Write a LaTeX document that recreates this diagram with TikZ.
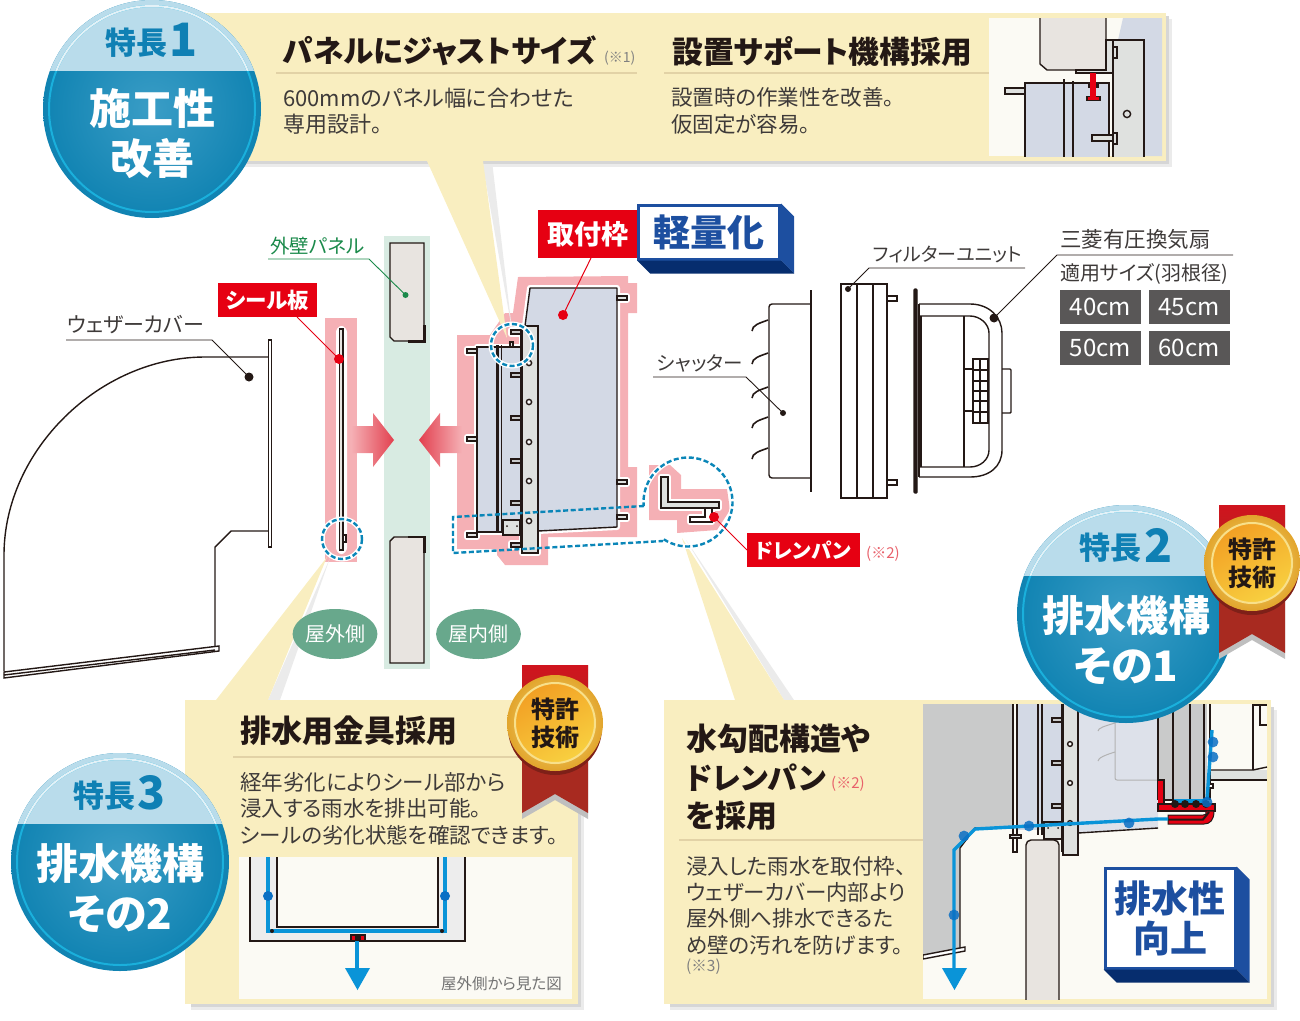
\documentclass[tikz,border=0pt]{standalone}
\usepackage{fontspec}
\setmainfont{Noto Sans CJK JP}[RawFeature=+palt,BoldFont={Noto Sans CJK JP Black}]
\usetikzlibrary{calc,shapes.geometric}

\definecolor{creamc}{HTML}{F9EEC0}
\definecolor{insetc}{HTML}{FBFAF4}
\definecolor{inkc}{HTML}{231815}
\definecolor{textc}{HTML}{3E3A39}
\definecolor{rulec}{HTML}{E2D2A6}
\definecolor{frameblue}{HTML}{D3D9E5}
\definecolor{framelight}{HTML}{DDE1EA}
\definecolor{platec}{HTML}{DFE1DF}
\definecolor{wallc}{HTML}{E8E4E0}
\definecolor{coverc}{HTML}{C9CACA}
\definecolor{pinkc}{HTML}{F5B0B5}
\definecolor{stripc}{HTML}{D8EBE2}
\definecolor{redc}{HTML}{E60012}
\definecolor{arrowc}{HTML}{E2404F}
\definecolor{greenc}{HTML}{1B8A4B}
\definecolor{pillc}{HTML}{68A88C}
\definecolor{sizec}{HTML}{595757}
\definecolor{waterc}{HTML}{0A94D8}
\definecolor{dropc}{HTML}{0A6FC4}
\definecolor{dashc}{HTML}{0A86B8}
\definecolor{liftc}{HTML}{1D4FA0}
\definecolor{liftdark}{HTML}{062D6E}
\definecolor{badgemid}{HTML}{3A9DC6}
\definecolor{badgeedge}{HTML}{1083B2}
\definecolor{badgetop}{HTML}{B9DCEB}
\definecolor{badgering}{HTML}{1AB0DC}
\definecolor{numc}{HTML}{0F80B4}
\definecolor{ribbontop}{HTML}{D0141E}
\definecolor{ribbonlow}{HTML}{A82A20}
\definecolor{noteredc}{HTML}{E8606A}
\definecolor{goldedge}{HTML}{E2A52C}
\definecolor{goldpale}{HTML}{F8E08A}
\definecolor{goldlow}{HTML}{F2A024}
\definecolor{goldhigh}{HTML}{F8D040}

\tikzset{
  every node/.style={inner sep=0},
  headtxt/.style={anchor=west,text=inkc,font=\bfseries\fontsize{30}{38}\selectfont},
  bodytxt/.style={anchor=west,align=left,text=textc,font=\fontsize{21.5}{26.4}\selectfont},
  notetxt/.style={anchor=west,text=black!50,font=\fontsize{14}{14}\selectfont},
  captxt/.style={anchor=west,text=textc,font=\fontsize{20}{20}\selectfont},
  redtag/.style={fill=redc,text=white,font=\bfseries\fontsize{21.5}{21.5}\selectfont},
  sizetag/.style={fill=sizec,text=white,minimum width=81,minimum height=34,font=\fontsize{24}{24}\selectfont},
  sidepill/.style={ellipse,fill=pillc,text=white,minimum width=84,minimum height=50,font=\fontsize{20}{20}\selectfont},
  liftbox/.style={draw=liftc,fill=white,line width=3,text=liftc,align=center,font=\bfseries\fontsize{37}{41}\selectfont},
  lead/.style={draw=inkc,line width=0.9},
  leadred/.style={draw=redc,line width=1},
  leadgreen/.style={draw=greenc,line width=0.9},
  dotblk/.style={circle,fill=inkc,minimum size=9},
  dotred/.style={circle,fill=redc,minimum size=10},
  dotgreen/.style={circle,fill=greenc,minimum size=6},
  part/.style={draw=inkc,line width=1.4},
  thick part/.style={draw=inkc,line width=2.8},
  halo/.style={draw=white,line width=6,line join=round},
  dashring/.style={draw=dashc,line width=2.4,dash pattern=on 5pt off 2.6pt},
  dashhalo/.style={draw=white,line width=5},
  water/.style={draw=waterc,line width=3.4},
  drop/.style={fill=dropc,opacity=0.85},
  shadowa/.style={fill=black!8},
  shadowb/.style={fill=black!16},
}

\newcommand{\featurecircle}[7]{%
  \begin{scope}[shift={(#2,#3)}]
    \shade[inner color=badgemid,outer color=badgeedge] (0,0) circle (109);
    \begin{scope}
      \clip (-110,-110) rectangle (110,-39);
      \fill[badgetop] (0,0) circle (109);
    \end{scope}
    \draw[badgering,line width=2] (0,0) circle (103);
    \begin{scope}
      \clip (-110,-110) rectangle (110,-39);
      \draw[white!60!badgetop,line width=2] (0,0) circle (103);
    \end{scope}
    \node[text=numc,font=\bfseries\fontsize{31}{31}\selectfont] (#1word) at (-16,-66) {特長};
    \node[text=numc,font=\bfseries\fontsize{46}{46}\selectfont] (#1num) at (32,-69) {#4};
    \node[text=white,font=\bfseries\fontsize{42}{42}\selectfont] (#1top) at (0,#7) {#5};
    \node[text=white,font=\bfseries\fontsize{42}{42}\selectfont] (#1low) at (0,#7+50) {#6};
  \end{scope}}

\newcommand{\patentmark}[3]{%
  \begin{scope}[shift={(#2,#3)}]
    \fill[black!25] (-33,-58) -- (33,-58) -- (33,96) -- (0,77) -- (-33,96) -- cycle;
    \shade[top color=ribbontop,bottom color=ribbonlow,middle color=ribbonlow] (-33,-58) -- (33,-58) -- (33,90) -- (0,71) -- (-33,90) -- cycle;
    \fill[ribbonlow!75!black] (0,5) circle (47);
    \shade[inner color=goldpale,outer color=goldedge] (0,0) circle (48);
    \shade[left color=goldlow,right color=goldhigh,shading angle=30,draw=goldpale,line width=2] (0,0) circle (40);
    \node[align=center,text=inkc,font=\bfseries\fontsize{24}{28}\selectfont] (#1) at (0,0) {特許\\技術};
  \end{scope}}

\begin{document}
\begin{tikzpicture}[x=1pt,y=-1pt]
  \useasboundingbox (0,0) rectangle (1300,1020);

  % pink halos and the wall strip
  \fill[pinkc] (518,277) -- (628,276) -- (628,283) -- (637,283) -- (637,313) -- (628,313) -- (628,467) -- (637,467)
    -- (637,537) -- (548,537) -- (548,565) -- (505,565) -- (497,555) -- (497,549) -- (457,549) -- (457,335) -- (490,335)
    -- (505,313) -- (513,313) -- cycle;
  \fill[pinkc] (649,465) -- (670,465) -- (681,475) -- (681,489) -- (727,489) -- (730,510) -- (717,530) -- (677,533)
    -- (677,520) -- (649,520) -- cycle;
  \fill[pinkc] (325,318) rectangle (357,562);
  \fill[stripc] (384,236) rectangle (430,669);

  % callout panels with their tails
  \fill[shadowa] (482,161) -- (492,161) -- (512,330) -- cycle;
  \fill[shadowa] (268,700) -- (280,700) -- (330,558) -- cycle;
  \fill[shadowa] (784,700) -- (794,700) -- (686,540) -- cycle;
  \fill[shadowa] (172,19) rectangle (1172,167);
  \fill[shadowb] (172,16) rectangle (1169,164);
  \fill[shadowa] (191,710) rectangle (584,1010);
  \fill[shadowb] (191,707) rectangle (581,1007);
  \fill[shadowa] (670,710) rectangle (1277,1010);
  \fill[shadowb] (670,707) rectangle (1274,1007);
  \fill[creamc] (427,161) -- (483,161) -- (507,338) -- cycle;
  \fill[creamc] (216,700) -- (268,700) -- (327,557) -- cycle;
  \fill[creamc] (735,700) -- (784,700) -- (682,538) -- cycle;
  \fill[creamc] (170,13) rectangle (1166,161);
  \fill[creamc] (185,700) rectangle (578,1004);
  \fill[creamc] (664,700) rectangle (1271,1004);

  % top panel
  \node[headtxt,font=\bfseries\fontsize{30.5}{30.5}\selectfont] (headjust) at (283,51) {パネルにジャストサイズ};
  \node[notetxt] (notejust) at (604,58) {(※1)};
  \draw[rulec,line width=2] (276,73) -- (637,73);
  \node[bodytxt,font=\fontsize{22}{26.4}\selectfont] (bodyjust) at (283,111) {600mmのパネル幅に合わせた\\専用設計。};
  \node[headtxt,font=\bfseries\fontsize{30.8}{30.8}\selectfont] (headsupport) at (672,52) {設置サポート機構採用};
  \draw[rulec,line width=2] (664,73) -- (989,73);
  \node[bodytxt] (bodysupport) at (671,111) {設置時の作業性を改善。\\仮固定が容易。};

  % top inset
  \begin{scope}
    \clip (989,18) rectangle (1162,156);
    \fill[insetc] (989,18) rectangle (1162,156);
    \fill[frameblue] (1123,18) -- (1162,18) -- (1162,156) -- (1113,156) -- (1113,40) -- (1118,40) -- cycle;
    \draw[part,fill=wallc] (1040,10) -- (1040,64) -- (1047,70) -- (1106,70) -- (1106,10);
    \draw[part,fill=frameblue] (1025,160) -- (1025,83) -- (1109,83) -- (1109,160);
    \draw[part,fill=platec] (1005,88) rectangle (1025,94);
    \draw[part,fill=platec] (1113,160) -- (1113,40) -- (1144,40) -- (1144,160);
    \draw[part,fill=platec] (1076,70) -- (1106,70) -- (1106,40) -- (1113,40) -- (1113,73) -- (1076,73) -- cycle;
    \draw[part,fill=platec] (1113,47) rectangle (1117,58);
    \draw[thick part] (1064,79) -- (1064,160);
    \draw[part] (1073,81) -- (1073,160);
    \draw[part,fill=platec] (1092,135) rectangle (1113,141);
    \draw[part,fill=platec] (1113,133) rectangle (1117,144);
    \fill[inkc] (1088,84) rectangle (1099,88);
    \fill[inkc] (1086,96) rectangle (1101,101);
    \fill[redc] (1090,73) rectangle (1096,97);
    \fill[redc] (1088,97) rectangle (1099,100);
    \draw[part] (1127,114) circle (3.6);
  \end{scope}

  % bottom left panel
  \node[headtxt,font=\bfseries\fontsize{31}{31}\selectfont] (headmetal) at (240,731) {排水用金具採用};
  \draw[rulec,line width=2] (233,757) -- (530,757);
  \node[bodytxt] (bodymetal) at (240,808.5) {経年劣化によりシール部から\\浸入する雨水を排出可能。\\シールの劣化状態を確認できます。};
  \fill[insetc] (239,857) rectangle (572,999);
  \draw[part,fill=black!7] (250,857) -- (250,941) -- (465,941) -- (465,857);
  \draw[part,fill=insetc] (277,857) -- (277,927) -- (438,927) -- (438,857);
  \draw[water] (268,857) -- (268,931) -- (445,931) -- (445,857);
  \fill[dropc] (268,896) circle (5);
  \fill[dropc] (445,896) circle (5);
  \fill[inkc] (272,931) circle (2);
  \fill[inkc] (442,931) circle (2);
  \fill[inkc] (350,934) rectangle (366,941);
  \fill[redc] (352,935.5) rectangle (355,940);
  \fill[redc] (361,935.5) rectangle (364,940);
  \draw[water] (357,941) -- (357,970);
  \fill[waterc] (345,968) -- (370,968) -- (357.5,990) -- cycle;
  \node[anchor=east,text=black!55,font=\fontsize{15.5}{15.5}\selectfont] (seenfrom) at (562,984) {屋外側から見た図};

  % bottom right panel
  \node[headtxt,anchor=north west,font=\bfseries\fontsize{31}{38.5}\selectfont,align=left] (headslope) at (686,724) {水勾配構造や\\{\fontsize{30}{38.5}\selectfont ドレンパン}\\を採用};
  \node[notetxt,text=noteredc,font=\fontsize{15}{15}\selectfont] (noteslope) at (831,784) {(※2)};
  \draw[rulec,line width=2] (679,840) -- (923,840);
  \node[bodytxt] (bodyslope) at (686,905.5) {浸入した雨水を取付枠、\\ウェザーカバー内部より\\屋外側へ排水できるた\\め壁の汚れを防げます。};
  \node[notetxt,font=\fontsize{15.5}{15.5}\selectfont] (notethree) at (686,967) {(※3)};

  % bottom right inset
  \begin{scope}
    \clip (923,704) rectangle (1267,999);
    \fill[insetc] (923,704) rectangle (1267,999);
    \fill[coverc] (923,704) -- (1012,704) -- (1012,828) -- (975,828) -- (960,848) -- (960,948) -- (923,956) -- cycle;
    \draw[part] (1012,828) -- (975,828) -- (960,848) -- (960,948);
    \draw[part,fill=white] (923,955) -- (965,947) -- (965,951) -- (923,959) -- cycle;
    \fill[framelight] (1078,700) -- (1158,700) -- (1158,828) -- (1078,833) -- cycle;
    \draw[black!30,line width=1,rounded corners=2] (1115,700) -- (1115,780) -- (1157,780);
    \draw[black!30,line width=1] (1115,723) .. controls (1105,726) and (1098,728) .. (1098,731);
    \draw[black!30,line width=1] (1115,752) .. controls (1105,755) and (1098,758) .. (1098,761);
    \fill[frameblue] (1017,700) rectangle (1062,830);
    \draw[part] (1158,828) -- (1078,833);
    \draw[part] (1013,700) -- (1013,852) -- (1017,852) -- (1017,700);
    \draw[part] (1038,700) -- (1038,835);
    \draw[thick part] (1042,700) -- (1042,835);
    \draw[part,fill=platec] (1010,835) rectangle (1021,838);
    \draw[part,fill=platec] (1063,700) -- (1063,855) -- (1078,855) -- (1078,700);
    \draw[thick part] (1062,700) -- (1062,852);
    \foreach \y in {720,763,806} {
      \draw[part,fill=coverc] (1052,\y-2) rectangle (1062,\y+2);
    }
    \foreach \y in {744,783,823} {
      \draw[part,fill=white] (1070,\y) circle (2.4);
    }
    \draw[part,fill=platec] (1044,822) rectangle (1062,839);
    \fill[inkc] (1048,828) circle (1);
    \fill[inkc] (1058,828) circle (1);
    \draw[part,fill=wallc,rounded corners=5] (1026,1005) -- (1026,840) -- (1059,840) -- (1059,1005);
    \fill[coverc] (1158,700) rectangle (1207,800);
    \foreach \x in {1158,1173,1190,1204,1210} {
      \draw[part] (\x,700) -- (\x,800);
    }
    \draw[part] (1158,800) -- (1207,800);
    \fill[redc] (1158,780) rectangle (1164,804);
    \draw[part] (1158,780) -- (1164,780) -- (1164,804);
    \draw[part,fill=redc] (1158,804) rectangle (1215,811);
    \fill[redc,draw=inkc,line width=1] (1168,815) -- (1203,815) .. controls (1206,815) and (1206,815) .. (1206,811) -- (1214,811)
      .. controls (1214,820) and (1210,824) .. (1204,824) -- (1168,824) -- cycle;
    \draw[inkc,line width=2] (1168,819.5) -- (1203,819.5) -- (1209,812);
    \draw[part] (1253,700) -- (1253,770);
    \draw[part] (1253,705) -- (1267,705);
    \draw[part] (1260,705) -- (1260,725) -- (1267,725);
    \fill[platec] (1211,770) rectangle (1267,780);
    \draw[part] (1211,770) -- (1253,770) -- (1267,767);
    \draw[part] (1211,780) -- (1267,780);
    \draw[part,fill=white] (1208,784) rectangle (1213,788);
    \draw[water] (1212,730) -- (1207,800);
    \draw[water,line width=3.4] (1174,801) -- (1207,801);
    \foreach \x in {1175,1185,1196,1206} {
      \fill[inkc] (\x,804) circle (4);
    }
    \draw[water] (1168,819) -- (1158,819) -- (975,829) -- (954,850) -- (954,972);
    \fill[waterc] (942,968) -- (967,968) -- (954.5,990) -- cycle;
    \foreach \x/\y in {1129/823,1029/826,964/836,954/915,1213/742,1213/757,1207/802} {
      \fill[drop] (\x,\y) circle (5.4);
    }
  \end{scope}
  \node[liftbox,minimum width=130,minimum height=100] (liftdrain) at (1170,918) {\raisebox{-1pt}{排水性}\\向上};
  \fill[liftc] (liftdrain.north east) -- ($(liftdrain.north east)+(13,13)$) -- ($(liftdrain.south east)+(13,13)$) -- (liftdrain.south east) -- cycle;
  \fill[liftdark] (liftdrain.south west) -- (liftdrain.south east) -- ($(liftdrain.south east)+(13,13)$) -- ($(liftdrain.south west)+(13,13)$) -- cycle;

  % weather cover
  \draw[part] (268,357) -- (205,357) .. controls (100,357) and (4,450) .. (4,555) -- (4,671);
  \draw[part] (268,531) -- (231,531) -- (215,547) -- (215,647);
  \draw[part,fill=white] (268.5,340) rectangle (271.5,547);
  \draw[part,fill=white] (4,672) -- (219,646) -- (219,651) -- (4,678) -- cycle;
  \draw[part] (4,675) -- (215,650);

  % seal plate
  \draw[halo,rounded corners=3] (339,329) rectangle (344,551);
  \draw[part,fill=wallc,line width=1.6] (339.5,329) rectangle (343,550);
  \draw[part,fill=white] (343,535) rectangle (346,542);
  \draw[dashhalo] (342,539) circle (20);
  \draw[dashring] (342,539) circle (20);

  % wall panels
  \draw[part,fill=wallc] (390,243) -- (424,243) -- (424,341) -- (394,341) -- (390,337) -- cycle;
  \draw[thick part] (408,341.5) -- (424.5,341.5) -- (424.5,325);
  \draw[part,fill=wallc] (394,537) -- (424,537) -- (424,663) -- (390,663) -- (390,541) -- cycle;
  \draw[thick part] (408,537) -- (424.5,537) -- (424.5,553);

  % push arrows
  \shade[left color=pinkc,middle color=pinkc!45,right color=arrowc] (351,426) -- (373,426) -- (373,413) -- (394,440) -- (373,467) -- (373,453) -- (351,453) -- cycle;
  \shade[left color=arrowc,middle color=pinkc!55,right color=pinkc] (419,440) -- (440,413) -- (440,426) -- (462,426) -- (462,453) -- (440,453) -- (440,467) -- cycle;

  % mounting frame
  \path[halo] (530,288) -- (617,288) -- (617,527) -- (538,531) -- (538,326) -- (525,326) -- cycle;
  \path[halo] (477,347) rectangle (521,532);
  \path[halo] (522,326) rectangle (538,553);
  \foreach \y in {332,545} {
    \path[halo] (511,\y-2) rectangle (521,\y+2);
  }
  \foreach \y in {351,439,535} {
    \path[halo] (467,\y-2) rectangle (477,\y+2);
  }
  \foreach \y in {298,482,517} {
    \path[halo] (617,\y-2) rectangle (627,\y+2);
  }
  \draw[part,fill=frameblue,line join=round] (530,288) -- (617,288) -- (617,527) -- (538,531) -- (538,326) -- (525,326) -- cycle;
  \draw[part,fill=frameblue] (477,347) -- (521,347) -- (521,532) -- (477,532) -- cycle;
  \draw[part,fill=platec] (522,326) rectangle (538,553);
  \draw[thick part] (497.5,345) -- (497.5,533);
  \draw[part] (501.5,345) -- (501.5,533);
  \draw[thick part] (521,333) -- (521,547);
  \foreach \y in {363,402,442,481,521} {
    \draw[part,fill=white] (529,\y) circle (2.6);
  }
  \foreach \y in {332,375,418,461,503,545} {
    \draw[part,fill=coverc] (511,\y-2) rectangle (521,\y+2);
  }
  \foreach \y in {351,439,535} {
    \draw[part,fill=platec] (467,\y-2) rectangle (477,\y+2);
  }
  \foreach \y in {298,482,517} {
    \draw[part,fill=platec] (617,\y-2) rectangle (627,\y+2);
  }
  \draw[part,fill=platec] (510,342) rectangle (513,347);
  \draw[part,fill=platec] (503,520) rectangle (520,535);
  \fill[inkc] (507,526) circle (1);
  \fill[inkc] (517,526) circle (1);
  \draw[dashhalo] (512,345) circle (21);
  \draw[dashring] (512,345) circle (21);

  % drain pan
  \path[halo] (661,477) -- (668,477) -- (668,502) -- (719,502) -- (719,508) -- (661,508) -- cycle;
  \path[halo] (690,517) -- (690,522) -- (712,522) -- (712,508) -- (705,508) -- (705,517) -- cycle;
  \draw[part,fill=platec,line width=1.4] (661,477) -- (668,477) -- (668,502) -- (719,502) -- (719,508) -- (661,508) -- cycle;
  \draw[part,fill=white] (690,517) -- (690,522) -- (712,522) -- (712,508) -- (705,508) -- (705,517) -- cycle;
  \draw[dashhalo] plot[domain=175:483,samples=60] ({688+44.5*cos(\x)},{502+44.5*sin(\x)});
  \coordinate (panA) at (453,517);
  \coordinate (panB) at (644,506);
  \coordinate (panC) at (663,541);
  \coordinate (panD) at (453,553);
  \draw[dashring] (panB) -- (panA) -- (panD) -- (panC)
    plot[domain=123:-185,samples=60] ({688+44.5*cos(\x)},{502+44.5*sin(\x)});

  % shutter
  \draw[part,fill=white,rounded corners=3] (811,304) -- (769,304) -- (769,478) -- (811,478);
  \draw[thick part] (811,290) -- (811,492);
  \foreach \y in {320,353,387,417,448} {
    \draw[part,line width=1.6] (768,\y) .. controls (760,\y+3) and (752,\y+5) .. (752,\y+11);
  }

  % filter unit
  \draw[part] (841,284) rectangle (887,498);
  \draw[part] (857,284) -- (857,498);
  \draw[part] (873,284) -- (873,498);
  \draw[part] (887,296) rectangle (897,301);
  \draw[part] (887,480) rectangle (897,485);

  % fan
  \draw[part,fill=inkc,rounded corners=1] (914,289) rectangle (917,493);
  \draw[part] (919,304) -- (970,304) .. controls (990,304) and (1002,318) .. (1002,333) -- (1002,450)
    .. controls (1002,466) and (990,477) .. (970,477) -- (919,477);
  \draw[part] (919,316) -- (970,316) .. controls (980,316) and (989,324) .. (989,333) -- (989,450)
    .. controls (989,460) and (980,467) .. (970,467) -- (919,467);
  \draw[part] (919,304) -- (919,477);
  \draw[part] (921,316) -- (921,467);
  \draw[part,line width=1.6] (964,316) -- (964,467);
  \draw[part,rounded corners=1] (1002,369) -- (1011,369) -- (1011,413) -- (1002,413);
  \draw[part] (973,359) rectangle (988,423);
  \draw[part] (964,369) -- (973,369);
  \draw[part] (964,411) -- (973,411);
  \foreach \y in {370,381,391,401,412} {
    \draw[part] (973,\y) -- (988,\y);
  }
  \draw[part] (980,359) -- (980,423);

  % labels and leader lines
  \node[captxt,font=\fontsize{21}{21}\selectfont] (capweather) at (67,325) {ウェザーカバー};
  \node[dotblk] (dotweather) at (249,377) {};
  \coordinate (weatherA) at (66,340);
  \coordinate (weatherB) at (212,340);
  \draw[lead] (weatherA) -- (weatherB) -- (dotweather.center);

  \node[captxt,text=greenc,font=\fontsize{19.5}{19.5}\selectfont] (capwall) at (270,246) {外壁パネル};
  \node[dotgreen] (dotwall) at (405.5,295) {};
  \coordinate (wallA) at (268,259);
  \coordinate (wallB) at (369,259);
  \draw[leadgreen] (wallA) -- (wallB) -- (dotwall.center);

  \node[redtag,minimum width=99,minimum height=34] (tagseal) at (267.5,300) {シール板};
  \node[dotred] (dotseal) at (339,359) {};
  \coordinate (sealA) at (297,317);
  \draw[leadred] (sealA) -- (dotseal.center);

  \node[redtag,minimum width=100,minimum height=48,font=\bfseries\fontsize{27}{27}\selectfont] (tagframe) at (588,234) {取付枠};
  \node[dotred] (dotframe) at (563,315) {};
  \coordinate (frameA) at (591,258);
  \draw[leadred] (frameA) -- (dotframe.center);

  \node[liftbox,minimum width=141,minimum height=54] (liftweight) at (709,232) {軽量化};
  \fill[liftc] (liftweight.north east) -- ($(liftweight.north east)+(13,13)$) -- ($(liftweight.south east)+(13,13)$) -- (liftweight.south east) -- cycle;
  \fill[liftdark] (liftweight.south west) -- (liftweight.south east) -- ($(liftweight.south east)+(13,13)$) -- ($(liftweight.south west)+(13,13)$) -- cycle;

  \node[redtag,minimum width=113,minimum height=34,font=\bfseries\fontsize{20.5}{20.5}\selectfont] (tagpan) at (803.5,550) {ドレンパン};
  \node[dotred] (dotpan) at (714,517) {};
  \coordinate (panE) at (747,550);
  \draw[leadred] (panE) -- (dotpan.center);
  \node[notetxt,text=noteredc,font=\fontsize{15}{15}\selectfont] (notepan) at (866,554) {(※2)};

  \node[captxt,font=\fontsize{19.5}{19.5}\selectfont] (capshutter) at (657,363) {シャッター};
  \node[dotblk,minimum size=6] (dotshutter) at (783,413) {};
  \coordinate (shutterA) at (653,377);
  \coordinate (shutterB) at (746,377);
  \draw[lead] (shutterA) -- (shutterB) -- (dotshutter.center);

  \node[captxt,font=\fontsize{19}{19}\selectfont] (capfilter) at (873,255) {フィルターユニット};
  \node[dotblk,minimum size=6] (dotfilter) at (848,289) {};
  \coordinate (filterA) at (1025,268);
  \coordinate (filterB) at (869,268);
  \draw[lead] (filterA) -- (filterB) -- (dotfilter.center);

  \node[captxt,font=\fontsize{21.5}{21.5}\selectfont] (capfan) at (1060,239) {三菱有圧換気扇};
  \node[dotblk] (dotfan) at (994,318) {};
  \coordinate (fanA) at (1233,255);
  \coordinate (fanB) at (1057,255);
  \draw[lead] (fanA) -- (fanB) -- (dotfan.center);
  \node[captxt] (capsize) at (1060,274) {適用サイズ(羽根径)};
  \node[sizetag] (size40) at (1100.5,307) {40cm};
  \node[sizetag] (size45) at (1189,307) {45cm};
  \node[sizetag] (size50) at (1100.5,348) {50cm};
  \node[sizetag] (size60) at (1189,348) {60cm};

  \node[sidepill] (pillout) at (335,634) {屋外側};
  \node[sidepill] (pillin) at (478.5,634) {屋内側};

  % badges
  \featurecircle{featone}{152}{109}{1}{施工性}{改善}{0}
  \featurecircle{feattwo}{1126}{614}{2}{排水機構}{その1}{2}
  \featurecircle{featthree}{120}{862}{3}{排水機構}{その2}{2}
  \patentmark{patentone}{555}{723}
  \patentmark{patenttwo}{1252}{563}
\end{tikzpicture}
\end{document}
